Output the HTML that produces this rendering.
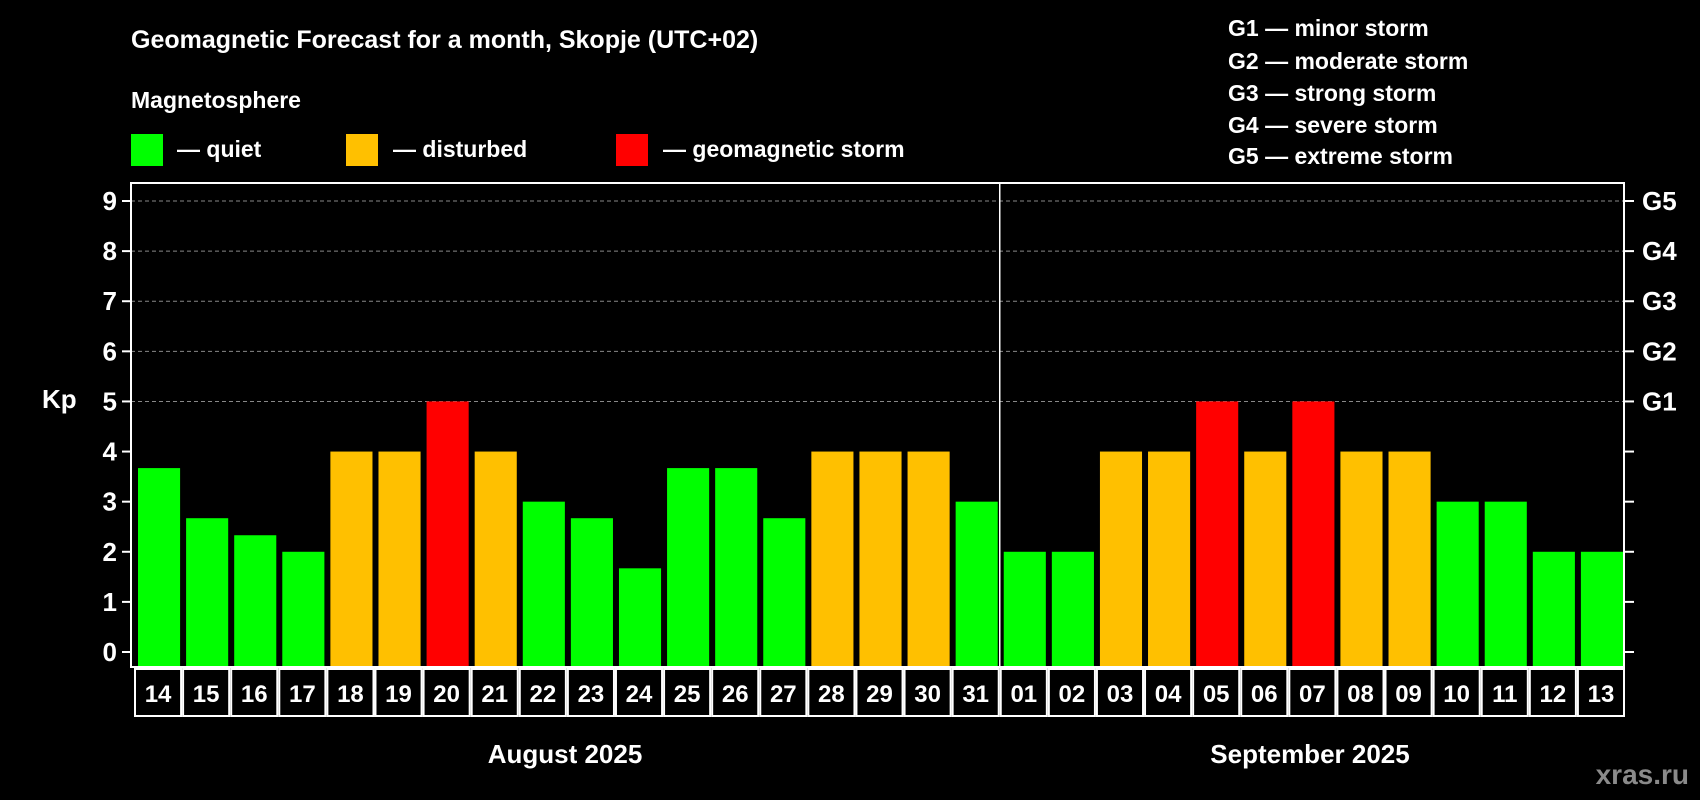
<!DOCTYPE html>
<html><head><meta charset="utf-8"><style>
html,body{margin:0;padding:0;background:#000;}
svg{display:block;font-family:"Liberation Sans",Arial,sans-serif;font-weight:bold;}
</style></head><body>
<svg id="chart" width="1700" height="800" viewBox="0 0 1700 800">
<rect width="1700" height="800" fill="#000"/>
<text x="131" y="48" fill="#fff" font-size="25">Geomagnetic Forecast for a month, Skopje (UTC+02)</text>
<text x="131" y="108" fill="#fff" font-size="23">Magnetosphere</text>
<g><rect x="131" y="134" width="32" height="32" fill="#00ff00"/><text x="177" y="157" fill="#fff" font-size="23">— quiet</text></g>
<g><rect x="346" y="134" width="32" height="32" fill="#ffc000"/><text x="393" y="157" fill="#fff" font-size="23">— disturbed</text></g>
<g><rect x="616" y="134" width="32" height="32" fill="#ff0000"/><text x="663" y="157" fill="#fff" font-size="23">— geomagnetic storm</text></g>
<g fill="#fff" font-size="23">
<text x="1228" y="36">G1 — minor storm</text>
<text x="1228" y="69">G2 — moderate storm</text>
<text x="1228" y="101">G3 — strong storm</text>
<text x="1228" y="133">G4 — severe storm</text>
<text x="1228" y="164">G5 — extreme storm</text>
</g>
<g id="plot"></g>
<text x="42" y="408" fill="#fff" font-size="26">Kp</text>
<text x="565" y="763" fill="#fff" font-size="26" text-anchor="middle">August 2025</text>
<text x="1310" y="763" fill="#fff" font-size="26" text-anchor="middle">September 2025</text>
<text x="1689" y="784" fill="#8a8a8a" font-size="28" text-anchor="end">xras.ru</text>
</svg>
<script>
const days = ["14","15","16","17","18","19","20","21","22","23","24","25","26","27","28","29","30","31","01","02","03","04","05","06","07","08","09","10","11","12","13"];
const kpValues = [3.67,2.67,2.33,2,4,4,5,4,3,2.67,1.67,3.67,3.67,2.67,4,4,4,3,2,2,4,4,5,4,5,4,4,3,3,2,2];
const yTicks = [0,1,2,3,4,5,6,7,8,9];
const gLabels = ["","","","","","G1","G2","G3","G4","G5"];
const NS="http://www.w3.org/2000/svg";
const L=131,R=1624,T=183,B=667,Y0=652,Y9=201;
const y=v=>Y0-(Y0-Y9)*v/9;
const slotX0=133, slotW=(R-slotX0)/days.length;
const xs=i=>slotX0+i*slotW;
const g=document.getElementById('plot');
function mk(tag,attrs){const e=document.createElementNS(NS,tag);for(const k in attrs)e.setAttribute(k,attrs[k]);g.appendChild(e);return e;}
yTicks.forEach((t,i)=>{
  if(t>=5){const gl=mk('line',{x1:L,x2:R,y1:y(t),y2:y(t),stroke:'#888','stroke-width':1,'stroke-dasharray':'4,3'});
  
  }
  const tl=mk('line',{x1:L-9,x2:L,y1:y(t),y2:y(t),stroke:'#fff','stroke-width':2});
  
  
  const tr=mk('line',{x1:R,x2:R+10,y1:y(t),y2:y(t),stroke:'#fff','stroke-width':2});
  
  
  const lb=mk('text',{x:L-14,y:y(t)+9,fill:'#fff','font-size':26,'text-anchor':'end'});lb.textContent=t;
  
  
  if(gLabels[i]){const gt=mk('text',{x:R+18,y:y(t)+9,fill:'#fff','font-size':26});gt.textContent=gLabels[i];
  
  }
});
kpValues.forEach((v,i)=>{
  const c=v>=5?'#ff0000':(v>=4?'#ffc000':'#00ff00');
  const b=mk('rect',{x:xs(i)+5,y:y(v),width:slotW-6,height:B-y(v),fill:c});
  
  
  const bx=mk('rect',{x:xs(i)+2,y:669,width:slotW-2,height:47,fill:'none',stroke:'#fff','stroke-width':2});
  
  
  const dt=mk('text',{x:xs(i)+slotW/2+1,y:702,fill:'#fff','font-size':24,'text-anchor':'middle'});dt.textContent=days[i];
  
  
});
const fr=mk('rect',{x:L,y:T,width:R-L,height:B-T,fill:'none',stroke:'#fff','stroke-width':2});


const dv=mk('line',{x1:xs(18)+1,x2:xs(18)+1,y1:T,y2:B,stroke:'#fff','stroke-width':1.5});


</script>
</body></html>
